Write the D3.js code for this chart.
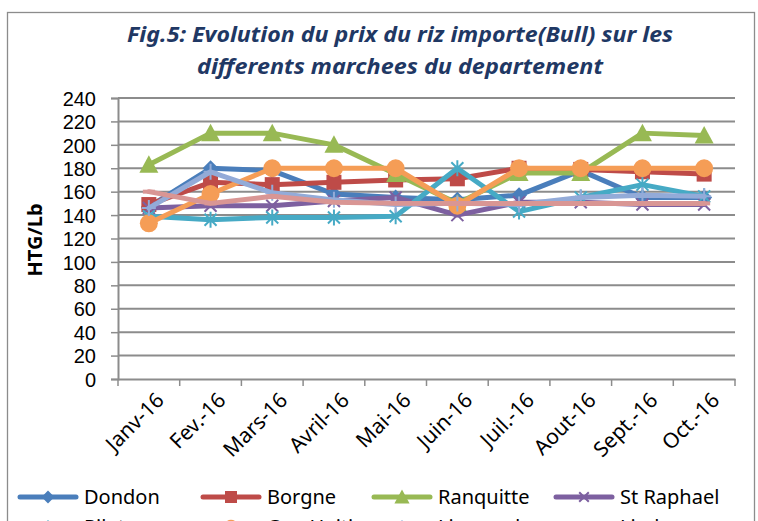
<!DOCTYPE html>
<html lang="fr">
<head>
  <meta charset="UTF-8" />
  <title>Fig.5 prix du riz importe</title>
  <script src="https://d3js.org/d3.v7.min.js"></script>
  <style>
    html, body { margin: 0; padding: 0; background: #fff; }
    svg { display: block; font-family: "Noto Sans", "Open Sans", sans-serif; }
  </style>
</head>
<body>
<div id="chart"></div>
<script>
// mois
const months = ["Janv-16", "Fev.-16", "Mars-16", "Avril-16", "Mai-16",
                "Juin-16", "Juil.-16", "Aout-16", "Sept.-16", "Oct.-16"];
const yTicks = [0, 20, 40, 60, 80, 100, 120, 140, 160, 180, 200, 220, 240];

// prix par marche (HTG/Lb)
const dondon     = [147, 180, 178, 158, 155, 153, 157, 178, 155, 155];
const borgne     = [149, 168, 166, 168, 170, 171, 180, 179, 177, 175];
const ranquitte  = [183, 210, 210, 200, 175, 150, 176, 176, 210, 208];
const stRaphael  = [146, 148, 148, 152, 155, 140, 151, 151, 149, 149];
const pilate     = [139, 136, 138, 138, 139, 180, 143, 155, 166, 156];
const capHaitien = [133, 158, 180, 180, 180, 148, 180, 180, 180, 180];
const limonade   = [146, 177, 159, 153, 149, 150, 149, 155, 157, 156];
const limbe      = [160, 150, 156, 151, 150, 150, 150, 150, 150, 150];

const seriesNames = ["Dondon", "Borgne", "Ranquitte", "St Raphael",
                     "Pilate", "Cap-Haitien", "Limonade", "Limbe"];
const seriesColors = ["#4A7EBB", "#BE4B48", "#98B954", "#7D60A0",
                      "#46AAC5", "#F59D56", "#93ABD8", "#D99694"];
const seriesMarkers = ["diamond", "square", "triangle", "x",
                       "star", "circle", "plus", "dash"];

const allSeries = [dondon, borgne, ranquitte, stRaphael, pilate, capHaitien, limonade, limbe]
  .map((vals, i) => ({ name: seriesNames[i], color: seriesColors[i], marker: seriesMarkers[i], values: vals }));

const W = 758, H = 521;
const svg = d3.select("#chart").append("svg").attr("width", W).attr("height", H);

// cadre
svg.append("rect")
  .attr("x", 7.5).attr("y", 12.5).attr("width", 747).attr("height", 530)
  .attr("fill", "#fff").attr("stroke", "#8c8c8c").attr("stroke-width", 1.3);

// titre
const titleLines = [
  { t: "Fig.5: Evolution du prix du riz importe(Bull) sur les", y: 42, len: 546 },
  { t: "differents marchees du departement", y: 74, len: 406 }
];
svg.selectAll(".title").data(titleLines).enter().append("text")
  .attr("class", "title")
  .attr("x", 400).attr("y", d => d.y)
  .attr("text-anchor", "middle")
  .attr("font-size", 22).attr("font-weight", "bold").attr("font-style", "italic")
  .attr("fill", "#1F3864")
  .attr("textLength", d => d.len).attr("lengthAdjust", "spacingAndGlyphs")
  .text(d => d.t);

const x = d3.scaleBand().domain(months).range([118, 735]);
const y = d3.scaleLinear().domain([0, 240]).range([379, 98]);
const cx = m => x(m) + x.bandwidth() / 2;

// grille
svg.append("g").selectAll("line").data(yTicks.filter(v => v > 0)).enter().append("line")
  .attr("x1", 118).attr("x2", 735)
  .attr("y1", d => y(d)).attr("y2", d => y(d))
  .attr("stroke", "#8c8c8c").attr("stroke-width", 2);

// axe Y
const yAxis = svg.append("g").attr("transform", "translate(118,0)")
  .call(d3.axisLeft(y).tickValues(yTicks).tickSize(7).tickPadding(15));
yAxis.select(".domain").attr("stroke", "#8c8c8c").attr("stroke-width", 2);
yAxis.selectAll(".tick line").attr("stroke", "#8c8c8c").attr("stroke-width", 1.5);
yAxis.selectAll(".tick text").attr("font-size", 20).attr("fill", "#000")
  .attr("font-family", "Liberation Sans").attr("dy", "0.36em");

// axe X
const xAxis = svg.append("g").attr("transform", "translate(0,379)")
  .call(d3.axisBottom(x).tickSize(0).tickSizeOuter(0));
xAxis.select(".domain").attr("stroke", "#8c8c8c").attr("stroke-width", 2);
xAxis.selectAll(".tick text")
  .attr("font-size", 21).attr("fill", "#000").attr("font-family", "Noto Sans")
  .attr("text-anchor", "end")
  .attr("transform", "translate(4,10) rotate(-45)")
  .attr("dy", "0.7em");
// graduations aux bords des categories
svg.append("g").selectAll("line").data(d3.range(months.length + 1)).enter().append("line")
  .attr("x1", i => 118 + i * x.step()).attr("x2", i => 118 + i * x.step())
  .attr("y1", 379).attr("y2", 386)
  .attr("stroke", "#8c8c8c").attr("stroke-width", 1.5);

// titre axe Y
svg.append("text")
  .attr("transform", "translate(42,240) rotate(-90)")
  .attr("text-anchor", "middle")
  .attr("font-size", 20).attr("font-weight", "bold")
  .text("HTG/Lb");

// marqueurs
function drawMarker(g, type, color, size) {
  const s = size || 1;
  if (type === "diamond") {
    g.append("path").attr("d", `M0,${-8*s}L${8*s},0L0,${8*s}L${-8*s},0Z`).attr("fill", color);
  } else if (type === "square") {
    g.append("rect").attr("x", -7.5*s).attr("y", -7.5*s).attr("width", 15*s).attr("height", 15*s).attr("fill", color);
  } else if (type === "triangle") {
    g.append("path").attr("d", `M0,${-9.5*s}L${9.5*s},${8*s}L${-9.5*s},${8*s}Z`).attr("fill", color);
  } else if (type === "circle") {
    g.append("circle").attr("r", 9*s).attr("fill", color);
  } else if (type === "x") {
    g.append("path").attr("d", `M${-6*s},${-6*s}L${6*s},${6*s}M${-6*s},${6*s}L${6*s},${-6*s}`)
      .attr("stroke", color).attr("stroke-width", 2);
  } else if (type === "star") {
    g.append("path").attr("d", `M${-6*s},${-6*s}L${6*s},${6*s}M${-6*s},${6*s}L${6*s},${-6*s}M0,${-8*s}L0,${8*s}`)
      .attr("stroke", color).attr("stroke-width", 2);
  } else if (type === "plus") {
    g.append("path").attr("d", `M${-7*s},0L${7*s},0M0,${-8*s}L0,${8*s}`)
      .attr("stroke", color).attr("stroke-width", 2);
  } else if (type === "dash") {
    g.append("path").attr("d", `M${-6*s},0L${6*s},0`).attr("stroke", color).attr("stroke-width", 4);
  }
}

const line = d3.line().x((d, i) => cx(months[i])).y(d => y(d));

allSeries.forEach(s => {
  const g = svg.append("g");
  g.append("path").datum(s.values)
    .attr("d", line)
    .attr("fill", "none").attr("stroke", s.color)
    .attr("stroke-width", 5).attr("stroke-linejoin", "round").attr("stroke-linecap", "round");
  s.values.forEach((v, i) => {
    const mg = g.append("g").attr("transform", `translate(${cx(months[i])},${y(v)})`);
    drawMarker(mg, s.marker, s.color, 1);
  });
});

// legende
const legX = [84, 267, 438, 620];
const legY = [497, 527];
allSeries.forEach((s, i) => {
  const tx = legX[i % 4], ly = legY[Math.floor(i / 4)];
  const g = svg.append("g").attr("transform", `translate(${tx},${ly})`);
  g.append("line").attr("x1", -64).attr("x2", -8).attr("y1", 0).attr("y2", 0)
    .attr("stroke", s.color).attr("stroke-width", 5).attr("stroke-linecap", "round");
  drawMarker(g.append("g").attr("transform", "translate(-36,0)"), s.marker, s.color, 0.8);
  g.append("text").attr("x", 0).attr("y", 0).attr("dy", "0.35em")
    .attr("font-size", 20).attr("fill", "#000").text(s.name);
});
</script>
</body>
</html>
